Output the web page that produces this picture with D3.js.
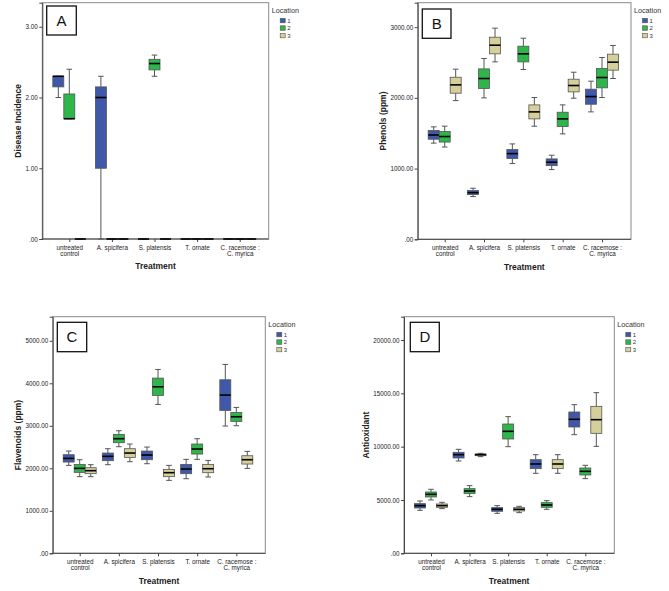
<!DOCTYPE html>
<html>
<head>
<meta charset="utf-8">
<script src="https://cdn.jsdelivr.net/npm/d3@7"></script>
<style>
  html, body { margin: 0; padding: 0; background: #fff; }
  svg { display: block; font-family: "Liberation Sans", Arial, sans-serif; }
</style>
</head>
<body>
<svg id="chart" width="669" height="591"></svg>
<script>
// ---------- data ----------
const categories = [["untreated", "control"], ["A. spicifera"], ["S. platensis"], ["T. ornate"], ["C. racemose :", "C. myrica"]];
const locations = ["1", "2", "3"];
const locationColors = ["#3f58aa", "#2fb64b", "#d5cf9a"];

// each entry: per treatment, per location [min, q1, median, q3, max]
const diseaseIncidence = [
  [[2.0, 2.15, 2.3, 2.3, 2.3], [1.7, 1.7, 1.7, 2.05, 2.4], [0, 0, 0, 0, 0]],
  [[0, 1.0, 2.0, 2.15, 2.3], [0, 0, 0, 0, 0], [0, 0, 0, 0, 0]],
  [[0, 0, 0, 0, 0], [2.3, 2.39, 2.48, 2.54, 2.6], [0, 0, 0, 0, 0]],
  [[0, 0, 0, 0, 0], [0, 0, 0, 0, 0], [0, 0, 0, 0, 0]],
  [[0, 0, 0, 0, 0], [0, 0, 0, 0, 0], [0, 0, 0, 0, 0]]
];
const phenols = [
  [[1360, 1415, 1475, 1540, 1590], [1305, 1375, 1453, 1525, 1600], [1962, 2066, 2184, 2292, 2406]],
  [[604, 632, 660, 689, 722], [2000, 2132, 2274, 2410, 2557], [2509, 2623, 2745, 2858, 2986]],
  [[1071, 1142, 1212, 1269, 1349], [2401, 2509, 2623, 2731, 2844], [1599, 1703, 1802, 1901, 2005]],
  [[986, 1042, 1090, 1137, 1189], [1491, 1594, 1703, 1797, 1901], [1995, 2085, 2175, 2264, 2363]],
  [[1802, 1910, 2019, 2123, 2236], [2005, 2142, 2288, 2415, 2571], [2274, 2392, 2505, 2618, 2741]]
];
const flavonoids = [
  [[2069, 2147, 2233, 2320, 2406], [1803, 1904, 1998, 2092, 2202], [1803, 1873, 1944, 2014, 2085]],
  [[2085, 2179, 2281, 2359, 2461], [2508, 2602, 2696, 2798, 2884], [2155, 2257, 2359, 2461, 2571]],
  [[2108, 2202, 2312, 2406, 2500], [3503, 3715, 3918, 4122, 4326], [1716, 1803, 1897, 1975, 2069]],
  [[1755, 1873, 1983, 2092, 2210], [2210, 2335, 2453, 2571, 2696], [1795, 1897, 1990, 2092, 2186]],
  [[2994, 3362, 3723, 4083, 4444], [3002, 3103, 3213, 3315, 3433], [1998, 2100, 2202, 2296, 2398]]
];
const antioxidant = [
  [[4031, 4250, 4469, 4656, 4906], [5000, 5281, 5531, 5750, 6000], [4188, 4313, 4469, 4625, 4781]],
  [[8656, 8938, 9250, 9469, 9750], [5313, 5594, 5844, 6063, 6344], [9063, 9156, 9250, 9313, 9375]],
  [[3750, 3938, 4125, 4281, 4469], [10000, 10719, 11438, 12125, 12813], [3813, 3969, 4125, 4281, 4406]],
  [[7500, 7938, 8375, 8781, 9250], [4125, 4313, 4531, 4750, 4938], [7500, 7938, 8375, 8781, 9250]],
  [[11125, 11844, 12563, 13250, 13938], [7000, 7344, 7688, 8000, 8250], [10031, 11250, 12531, 13781, 15063]]
];

const ticksA = [0, 1, 2, 3];
const ticksB = [0, 1000, 2000, 3000];
const ticksC = [0, 1000, 2000, 3000, 4000, 5000];
const ticksD = [0, 5000, 10000, 15000, 20000];
const xTitle = "Treatment";
const legendTitle = "Location";

// ---------- layout ----------
const panels = [
  { data: diseaseIncidence, ticks: ticksA, yMax: 3.34, title: "Disease Incidence", letter: "A",
    left: 42.3, right: 268.7, top: 2.7, bottom: 239, yTitleX: 20.5, box: [46.7, 6, 29.6, 29] },
  { data: phenols, ticks: ticksB, yMax: 3346, title: "Phenols (ppm)", letter: "B",
    left: 417.7, right: 631, top: 2.7, bottom: 239.3, yTitleX: 385.5, box: [422.3, 9, 28.7, 29.3] },
  { data: flavonoids, ticks: ticksC, yMax: 5567, title: "Flavenoids (ppm)", letter: "C",
    left: 52.7, right: 265.3, top: 316.7, bottom: 553.3, yTitleX: 20.5, box: [57.3, 322.3, 29.4, 29.4] },
  { data: antioxidant, ticks: ticksD, yMax: 22187, title: "Antioxidant", letter: "D",
    left: 404, right: 614.3, top: 316.7, bottom: 553.3, yTitleX: 368.5, box: [410.3, 322.3, 29, 29.4] }
];

const svg = d3.select("#chart");
const fmt = v => v === 0 ? ".00" : d3.format(".2f")(v);
const boxW = 11;

panels.forEach(p => {
  const g = svg.append("g");
  const y = d3.scaleLinear().domain([0, p.yMax]).range([p.bottom, p.top]);
  const x = d3.scalePoint().domain(categories.map((c, i) => i)).range([p.left + 27, p.right - 29]);
  const off = d3.scalePoint().domain(locations).range([-boxW, boxW]);

  // frame
  g.append("rect").attr("x", p.left).attr("y", p.top)
    .attr("width", p.right - p.left).attr("height", p.bottom - p.top)
    .attr("fill", "none").attr("stroke", "#8a8a8a").attr("stroke-width", 1);

  // y axis
  const yAxis = g.append("g").attr("transform", `translate(${p.left},0)`)
    .call(d3.axisLeft(y).tickValues(p.ticks).tickFormat(fmt).tickSize(3).tickPadding(1.5));
  yAxis.select(".domain").attr("stroke", "#444");
  yAxis.selectAll(".tick line").attr("stroke", "#444");
  yAxis.selectAll("text").attr("font-size", 6.3).attr("fill", "#222")
    .attr("font-family", "'Liberation Sans', Arial, sans-serif");

  // x axis
  const xAxis = g.append("g").attr("transform", `translate(0,${p.bottom})`)
    .call(d3.axisBottom(x).tickSize(3).tickFormat(""));
  xAxis.select(".domain").attr("stroke", "#444").attr("d", `M${p.left},0H${p.right}`);
  xAxis.selectAll(".tick line").attr("stroke", "#444");
  xAxis.selectAll(".tick").each(function (d) {
    const t = d3.select(this).append("text").attr("fill", "#222").attr("font-size", 6.3)
      .attr("text-anchor", "middle")
      .attr("font-family", "'Liberation Sans', Arial, sans-serif");
    categories[d].forEach((line, k) => {
      t.append("tspan").attr("x", 0).attr("y", 11 + k * 5.6).text(line);
    });
  });

  // boxes
  p.data.forEach((cat, ci) => {
    cat.forEach((s, li) => {
      const cx = x(ci) + off(locations[li]);
      const [mn, q1, md, q3, mx] = s;
      const bg = g.append("g");
      // whiskers
      bg.append("line").attr("x1", cx).attr("x2", cx).attr("y1", y(mx)).attr("y2", y(q3))
        .attr("stroke", "#555").attr("stroke-width", 1);
      bg.append("line").attr("x1", cx).attr("x2", cx).attr("y1", y(q1)).attr("y2", y(mn))
        .attr("stroke", "#555").attr("stroke-width", 1);
      [mn, mx].forEach(v => {
        bg.append("line").attr("x1", cx - 2.8).attr("x2", cx + 2.8).attr("y1", y(v)).attr("y2", y(v))
          .attr("stroke", "#555").attr("stroke-width", 1);
      });
      bg.append("rect").attr("x", cx - boxW / 2).attr("width", boxW)
        .attr("y", y(q3)).attr("height", Math.max(0, y(q1) - y(q3)))
        .attr("fill", locationColors[li]).attr("stroke", "#555").attr("stroke-width", 0.8);
      bg.append("line").attr("x1", cx - boxW / 2).attr("x2", cx + boxW / 2)
        .attr("y1", y(md)).attr("y2", y(md)).attr("stroke", "#000").attr("stroke-width", 1.6);
    });
  });

  // letter box
  g.append("rect").attr("x", p.box[0]).attr("y", p.box[1]).attr("width", p.box[2]).attr("height", p.box[3])
    .attr("fill", "#fff").attr("stroke", "#111").attr("stroke-width", 1.3);
  g.append("text").attr("x", p.box[0] + p.box[2] / 2).attr("y", p.box[1] + p.box[3] / 2 + 5.2)
    .attr("text-anchor", "middle").attr("font-size", 15).attr("fill", "#111").text(p.letter);

  // axis titles
  g.append("text").attr("x", (p.left + p.right) / 2).attr("y", p.bottom + 30.3)
    .attr("text-anchor", "middle").attr("font-size", 8.5).attr("font-weight", "bold").attr("fill", "#222")
    .text(xTitle);
  g.append("text").attr("transform", `translate(${p.yTitleX},${(p.top + p.bottom) / 2}) rotate(-90)`)
    .attr("text-anchor", "middle").attr("font-size", 8.5).attr("font-weight", "bold").attr("fill", "#222")
    .text(p.title);

  // legend
  const lg = g.append("g").attr("transform", `translate(${p.right + 3},${p.top})`);
  lg.append("text").attr("x", 0).attr("y", 10).attr("font-size", 7.2).attr("fill", "#333").text(legendTitle);
  locations.forEach((l, i) => {
    lg.append("rect").attr("x", 8.5).attr("y", 15.6 + i * 7.5).attr("width", 5).attr("height", 4.5)
      .attr("fill", locationColors[i]).attr("stroke", "#555").attr("stroke-width", 0.6);
    lg.append("text").attr("x", 15.5).attr("y", 20.3 + i * 7.5).attr("font-size", 6).attr("fill", "#333").text(l);
  });
});
</script>
</body>
</html>
